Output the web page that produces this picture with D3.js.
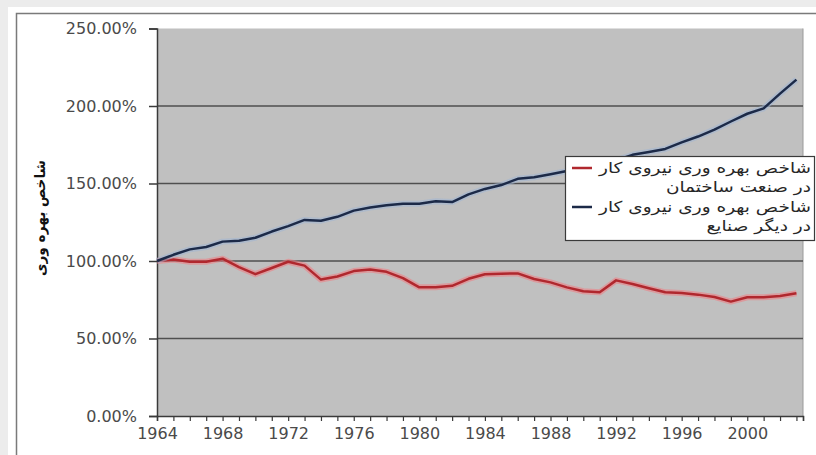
<!DOCTYPE html>
<html>
<head>
<meta charset="utf-8">
<script src="https://cdn.jsdelivr.net/npm/d3@7"></script>
<style>
  html, body { margin: 0; padding: 0; background: #ececec; }
  svg { display: block; }
</style>
</head>
<body>
<svg id="chart" width="816" height="455"></svg>
<script>
// Labour productivity index, construction vs. other industries (1964 = 100%)
const years = d3.range(1964, 2004);
const construction = [
  1.00, 1.01, 0.995, 0.995, 1.015, 0.96, 0.915, 0.955, 0.995, 0.97,
  0.88, 0.90, 0.935, 0.945, 0.93, 0.89, 0.83, 0.83, 0.84, 0.885,
  0.915, 0.918, 0.92, 0.884, 0.862, 0.83, 0.805, 0.798, 0.875, 0.852,
  0.824, 0.798, 0.794, 0.783, 0.768, 0.738, 0.766, 0.766, 0.774, 0.792
];
const otherIndustries = [
  1.00, 1.04, 1.075, 1.09, 1.125, 1.13, 1.15, 1.19, 1.225, 1.265,
  1.26, 1.285, 1.325, 1.345, 1.36, 1.37, 1.37, 1.385, 1.38, 1.43,
  1.465, 1.49, 1.53, 1.54, 1.56, 1.58, 1.60, 1.62, 1.65, 1.685,
  1.703, 1.723, 1.765, 1.803, 1.848, 1.90, 1.95, 1.985, 2.08, 2.17
];
const yTicks = [0, 0.5, 1.0, 1.5, 2.0, 2.5];
const xLabelYears = [1964, 1968, 1972, 1976, 1980, 1984, 1988, 1992, 1996, 2000];
const yTitle = "شاخص بهره وری";
const legendItems = [
  { lines: ["شاخص بهره وری نیروی کار", "در صنعت ساختمان"], color: "#b0282e", values: construction },
  { lines: ["شاخص بهره وری نیروی کار", "در دیگر صنایع"], color: "#1c2a48", values: otherIndustries }
];

const svg = d3.select("#chart");

// page frame
svg.append("rect").attr("x", 8).attr("y", 7).attr("width", 808).attr("height", 448).attr("fill", "#ffffff");
svg.append("path").attr("d", "M16.5,460 V13.5 H820").attr("fill", "none").attr("stroke", "#7a7a7a").attr("stroke-width", 1.5);

const plot = { left: 157, right: 803, top: 28.5, bottom: 416 };
const x = d3.scaleLinear().domain([1964, 2003.4]).range([plot.left, plot.right]);
const y = d3.scaleLinear().domain([0, 2.5]).range([plot.bottom, plot.top]);

// plot background
svg.append("rect")
  .attr("x", plot.left).attr("y", plot.top)
  .attr("width", plot.right - plot.left).attr("height", plot.bottom - plot.top)
  .attr("fill", "#c0c0c0");
svg.append("line")
  .attr("x1", plot.right).attr("x2", plot.right)
  .attr("y1", plot.top).attr("y2", plot.bottom)
  .attr("stroke", "#9a9a9a").attr("stroke-width", 1);

// horizontal gridlines
svg.append("g").selectAll("line")
  .data(yTicks.filter(d => d > 0 && d < 2.5))
  .join("line")
  .attr("x1", plot.left).attr("x2", plot.right)
  .attr("y1", d => y(d)).attr("y2", d => y(d))
  .attr("stroke", "#4f4f4f").attr("stroke-width", 1.5);

// y axis
const yAxis = svg.append("g")
  .attr("transform", `translate(${plot.left},0)`)
  .call(d3.axisLeft(y).tickValues(yTicks).tickFormat(d3.format(".2%")).tickSize(8).tickPadding(12));
yAxis.select(".domain").attr("stroke", "#3a3a3a").attr("stroke-width", 1.5);
yAxis.selectAll(".tick line").attr("stroke", "#3a3a3a").attr("stroke-width", 1.5);
yAxis.selectAll(".tick text")
  .attr("font-family", "DejaVu Sans, sans-serif").attr("font-size", 16).attr("fill", "#4a4a4a");

// x axis: a tick per year, a label every fourth year
const xAxis = svg.append("g")
  .attr("transform", `translate(0,${plot.bottom})`)
  .call(d3.axisBottom(x).tickValues(years.concat([2003.4]))
    .tickFormat(d => xLabelYears.includes(d) ? String(d) : "")
    .tickSize(5).tickPadding(7));
xAxis.select(".domain").attr("stroke", "#3a3a3a").attr("stroke-width", 1.5);
xAxis.selectAll(".tick line").attr("stroke", "#3a3a3a").attr("stroke-width", 1.2);
xAxis.selectAll(".tick text")
  .attr("font-family", "DejaVu Sans, sans-serif").attr("font-size", 16).attr("fill", "#4a4a4a");

// y axis title
svg.append("text")
  .attr("transform", "translate(45,218) rotate(-90)")
  .attr("text-anchor", "middle")
  .attr("font-family", "DejaVu Sans, sans-serif").attr("font-weight", "bold")
  .attr("font-size", 14).attr("fill", "#111")
  .attr("textLength", 116).attr("lengthAdjust", "spacingAndGlyphs")
  .text(yTitle);

// series lines
const line = d3.line().x((d, i) => x(years[i])).y(d => y(d));
const halo = { "#b0282e": "#f07a80", "#1c2a48": "#9fb4d4" };
legendItems.forEach(s => {
  svg.append("path").datum(s.values).attr("d", line)
    .attr("fill", "none").attr("stroke", halo[s.color]).attr("stroke-opacity", 0.55)
    .attr("stroke-width", 6).attr("stroke-linejoin", "round");
  svg.append("path").datum(s.values).attr("d", line)
    .attr("fill", "none").attr("stroke", s.color)
    .attr("stroke-width", 2.5).attr("stroke-linejoin", "round");
});

// legend
const lg = svg.append("g");
lg.append("rect").attr("x", 565.5).attr("y", 156.5).attr("width", 249).attr("height", 84)
  .attr("fill", "#ffffff").attr("stroke", "#3a3a3a").attr("stroke-width", 1.2);
const legendTexts = [];
legendItems.forEach((s, i) => {
  const y0 = 168 + i * 39;
  lg.append("line").attr("x1", 572).attr("x2", 592).attr("y1", y0).attr("y2", y0)
    .attr("stroke", s.color).attr("stroke-width", 2.5);
  s.lines.forEach((t, j) => {
    legendTexts.push(lg.append("text")
      .attr("x", 811).attr("y", y0 + 5 + j * 19)
      .attr("text-anchor", "end")
      .attr("font-family", "DejaVu Sans, sans-serif").attr("font-size", 15).attr("fill", "#262626")
      .text(t));
  });
});
// widen the legend labels evenly so the longest line fills the box
const widest = d3.max(legendTexts, t => t.node().getComputedTextLength());
const stretch = 212 / widest;
legendTexts.forEach(t => {
  t.attr("textLength", t.node().getComputedTextLength() * stretch).attr("lengthAdjust", "spacingAndGlyphs");
});
</script>
</body>
</html>
